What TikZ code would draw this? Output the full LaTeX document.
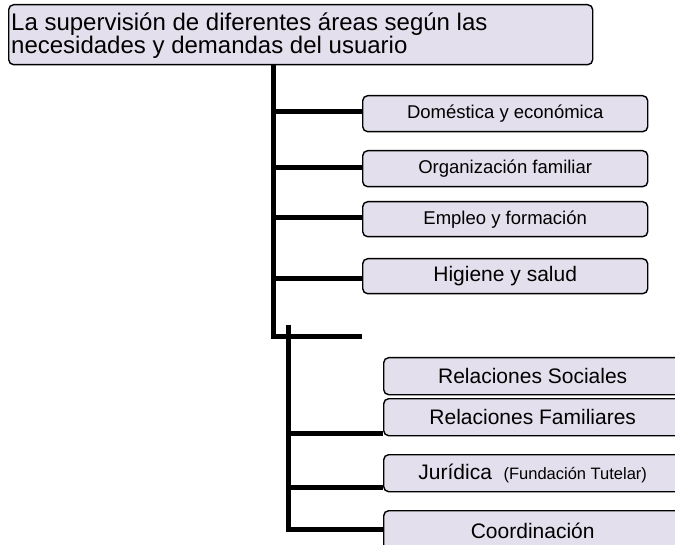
\documentclass[tikz,border=0pt]{standalone}
\usepackage{fontspec}
\setmainfont{Liberation Sans}
\definecolor{boxfill}{HTML}{E4DFEC}
\begin{document}
\begin{tikzpicture}[x=1pt,y=-1pt,
  box/.style={draw=black,line width=1.4pt,fill=boxfill,rounded corners=5pt,anchor=north west,inner sep=0pt},
  small/.style={font=\fontsize{18.5}{20}\selectfont},
  large/.style={font=\fontsize{21}{24}\selectfont},
  conn/.style={line width=5pt,line cap=butt}]
\useasboundingbox (0,0) rectangle (675,545);
\clip (0,0) rectangle (675,545);
% top box
\node[box,minimum width=584pt,minimum height=60pt] (top) at (8,4) {};
\node[anchor=base west,align=left,font=\fontsize{24}{22}\selectfont,inner sep=0pt] (toptext) at (11,54)
  {La supervisión de diferentes áreas según las\\necesidades y demandas del usuario};
% first group
\node[box,small,minimum width=285pt,minimum height=36pt] (dom) at (362,95) {Doméstica y económica};
\node[box,small,minimum width=285pt,minimum height=36pt] (org) at (362,150) {Organización familiar};
\node[box,small,minimum width=285pt,minimum height=35pt] (emp) at (362,201) {Empleo y formación};
\node[box,large,minimum width=285pt,minimum height=35pt] (hig) at (362,258) {Higiene y salud};
% second group
\node[box,large,minimum width=298pt,minimum height=37pt] (rs) at (383,357) {Relaciones Sociales};
\node[box,large,minimum width=298pt,minimum height=37pt] (rf) at (383,398) {Relaciones Familiares};
\node[box,large,minimum width=298pt,minimum height=37pt] (jur) at (383,454) {Jurídica\ \ {\fontsize{16.5}{18}\selectfont(Fundación Tutelar)}};
\node[box,large,minimum width=298pt,minimum height=40pt] (coo) at (383,510) {Coordinación};
% connectors
\coordinate (v1top) at (273,64);
\coordinate (v1bot) at (273,337);
\coordinate (h1end) at (362,337);
\coordinate (v2top) at (288,325);
\coordinate (v2bot) at (288,529);
\draw[conn] (v1top) -- (v1bot) -- (h1end);
\draw[conn] (273,112) -- (dom.west |- 0,112);
\draw[conn] (273,168) -- (org.west |- 0,168);
\draw[conn] (273,218) -- (emp.west |- 0,218);
\draw[conn] (273,279) -- (hig.west |- 0,279);
\draw[conn] (v2top) -- (v2bot) -- (coo.west |- v2bot);
\draw[conn] (288,433) -- (rf.west |- 0,433);
\draw[conn] (288,487) -- (jur.west |- 0,487);
\end{tikzpicture}
\end{document}
